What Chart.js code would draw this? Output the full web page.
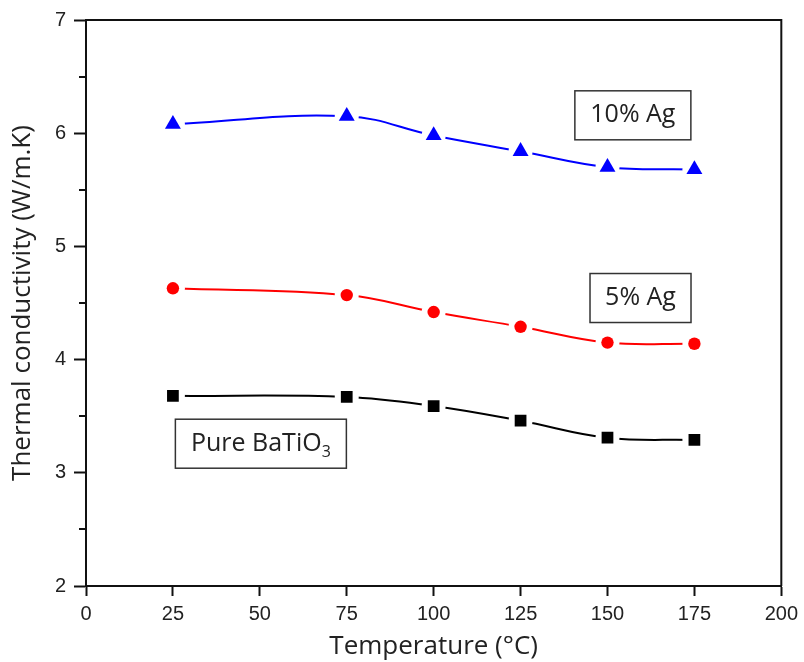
<!DOCTYPE html>
<html>
<head>
<meta charset="utf-8">
<script src="https://cdn.jsdelivr.net/npm/chart.js@4.4.1/dist/chart.umd.min.js"></script>
<style>
  body { margin: 0; background: #fff; }
  #wrap { width: 804px; height: 662px; position: relative; }
</style>
</head>
<body>
<div id="wrap"><canvas id="conductivityChart"></canvas></div>
<script>
const temperatures = [25, 75, 100, 125, 150, 175];
const pureBaTiO3 = [3.68, 3.67, 3.59, 3.46, 3.31, 3.29];
const ag5 = [4.63, 4.57, 4.42, 4.29, 4.15, 4.14];
const ag10 = [6.08, 6.15, 5.98, 5.84, 5.70, 5.68];
const xTicks = [0, 25, 50, 75, 100, 125, 150, 175, 200];
const yTicks = [2, 3, 4, 5, 6, 7];
const yMinorTicks = [2.5, 3.5, 4.5, 5.5, 6.5];

// boxed series names, anchored in data units
const boxes = [
  { text: '10% Ag', x: 157.3, y: 6.158, w: 116, h: 49 },
  { text: '5% Ag', x: 159.5, y: 4.544, w: 101, h: 49 },
  { text: 'Pure BaTiO', sub: '3', x: 50.3, y: 3.257, w: 171, h: 49 }
];

const ink = '#111';
const textColor = '#222';

function points(values) {
  return temperatures.map((t, i) => ({ x: t, y: values[i] }));
}

// smooth line; white dots at each point cut the line short of the markers
function curve(values, color) {
  return {
    data: points(values),
    borderColor: color,
    borderWidth: 2,
    tension: 0.4,
    pointStyle: 'circle',
    pointRadius: 12,
    pointHoverRadius: 12,
    pointBackgroundColor: '#fff',
    pointBorderWidth: 0,
    order: 2
  };
}

function markers(values, color, style, radius) {
  return {
    data: points(values),
    showLine: false,
    pointStyle: style,
    pointRadius: radius,
    pointHoverRadius: radius,
    pointBackgroundColor: color,
    pointBorderWidth: 0,
    order: 1
  };
}

const framePlugin = {
  id: 'frame',
  afterDraw(chart) {
    const { ctx, chartArea: a, scales: { x, y } } = chart;
    ctx.save();
    ctx.strokeStyle = ink;
    ctx.lineWidth = 2;
    ctx.beginPath();
    ctx.moveTo(a.left, a.top);
    ctx.lineTo(a.right, a.top);
    ctx.lineTo(a.right, a.bottom);
    ctx.stroke();

    yMinorTicks.forEach(v => {
      const py = Math.round(y.getPixelForValue(v));
      ctx.beginPath();
      ctx.moveTo(a.left - 7, py);
      ctx.lineTo(a.left, py);
      ctx.stroke();
    });

    boxes.forEach(b => {
      const cx = x.getPixelForValue(b.x);
      const cy = y.getPixelForValue(b.y);
      ctx.fillStyle = '#fff';
      ctx.strokeStyle = '#333';
      ctx.lineWidth = 1.5;
      ctx.fillRect(cx - b.w / 2, cy - b.h / 2, b.w, b.h);
      ctx.strokeRect(cx - b.w / 2, cy - b.h / 2, b.w, b.h);

      ctx.fillStyle = textColor;
      ctx.textBaseline = 'middle';
      ctx.textAlign = 'left';
      ctx.font = '25px "Open Sans"';
      const mainW = ctx.measureText(b.text).width;
      let subW = 0;
      if (b.sub) {
        ctx.font = '16px "Open Sans"';
        subW = ctx.measureText(b.sub).width;
      }
      const left = cx - (mainW + subW) / 2;
      ctx.font = '25px "Open Sans"';
      ctx.fillText(b.text, left, cy);
      if (b.sub) {
        ctx.font = '16px "Open Sans"';
        ctx.fillText(b.sub, left + mainW, cy + 9);
      }
    });
    ctx.restore();
  }
};

new Chart(document.getElementById('conductivityChart'), {
  type: 'line',
  data: {
    datasets: [
      curve(ag10, '#0000ff'),
      curve(ag5, '#ff0000'),
      curve(pureBaTiO3, '#000'),
      markers(ag10, '#0000ff', 'triangle', 9.2),
      markers(ag5, '#ff0000', 'circle', 6.2),
      markers(pureBaTiO3, '#000', 'rect', 8.3)
    ]
  },
  options: {
    responsive: true,
    maintainAspectRatio: false,
    animation: false,
    layout: { padding: { top: 19, right: 20, left: 0, bottom: 0 } },
    plugins: { legend: { display: false }, tooltip: { enabled: false } },
    scales: {
      x: {
        type: 'linear',
        min: 0,
        max: 200,
        afterBuildTicks: s => { s.ticks = xTicks.map(v => ({ value: v })); },
        afterFit: s => { s.height = 76; },
        ticks: { font: { family: 'Liberation Sans', size: 20 }, color: textColor, padding: 6, maxRotation: 0 },
        grid: { drawOnChartArea: false, tickLength: 10, tickWidth: 2, tickColor: ink },
        border: { color: ink, width: 2 },
        title: {
          display: true,
          text: 'Temperature (°C)',
          font: { family: 'Open Sans', size: 26 },
          color: textColor,
          padding: { top: 0, bottom: 0 }
        }
      },
      y: {
        min: 2,
        max: 7,
        afterBuildTicks: s => { s.ticks = yTicks.map(v => ({ value: v })); },
        afterFit: s => { s.width = 86; },
        ticks: { font: { family: 'Liberation Sans', size: 20 }, color: textColor, padding: 8 },
        grid: { drawOnChartArea: false, tickLength: 12, tickWidth: 2, tickColor: ink },
        border: { color: ink, width: 2 },
        title: {
          display: true,
          text: 'Thermal conductivity (W/m.K)',
          font: { family: 'Open Sans', size: 26 },
          color: textColor,
          padding: { top: 7, bottom: 0 }
        }
      }
    }
  },
  plugins: [framePlugin]
});
</script>
</body>
</html>
